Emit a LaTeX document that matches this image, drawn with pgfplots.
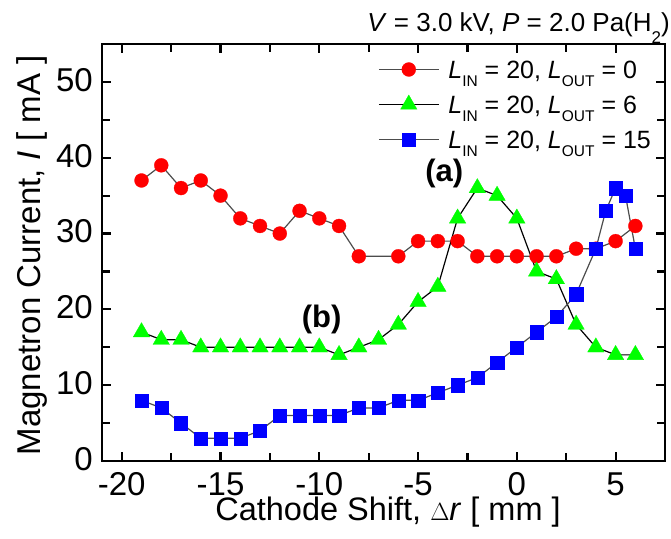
\documentclass[border=0pt]{standalone}
\usepackage{pgfplots}
\pgfplotsset{compat=1.18}
\usepackage{fontspec}
\setmainfont{Liberation Sans}

\newcommand{\Lsub}[1]{\textit{L}\raisebox{-8pt}{\fontsize{15.5}{15.5}\selectfont #1}}

\begin{document}
\begin{tikzpicture}
\useasboundingbox (-102pt,-77pt) rectangle (569pt,461pt);
\begin{axis}[
  at={(0pt,0pt)}, anchor=south west,
  scale only axis, width=563pt, height=417pt,
  clip=false,
  xmin=-21, xmax=7.5, ymin=0, ymax=55,
  xtick={-20,-15,...,5}, minor xtick={-17.5,-12.5,-7.5,-2.5,2.5},
  ytick={0,10,...,50}, minor ytick={5,15,...,45},
  tick align=inside,
  major tick length=9pt, minor tick length=8pt,
  every tick/.style={line width=2.2pt, black},
  axis line style={line width=2.7pt},
  /pgf/number format/assume math mode=true,
  xticklabel style={font=\fontsize{33}{33}\selectfont, inner sep=0pt, anchor=base, yshift=-34pt},
  yticklabel style={font=\fontsize{33}{33}\selectfont, inner sep=0pt, anchor=east, xshift=-9pt, yshift=2pt},
  xlabel={Cathode Shift, $\Delta$\textit{r} [ mm ]},
  ylabel={Magnetron Current, \textit{I} [ mA ]},
  x label style={font=\fontsize{32.5}{33}\selectfont, inner sep=0pt, at={(axis description cs:0.508,0)}, anchor=base, yshift=-59.5pt},
  y label style={font=\fontsize{33}{33}\selectfont, inner sep=0pt, at={([xshift=-61pt]axis description cs:0,0.493)}, rotate=0, anchor=base},
  legend style={draw=none, fill=none, inner sep=0pt, at={(rel axis cs:0.4902,0.9705)}, anchor=north west,
    font=\fontsize{25}{25}\selectfont, row sep=9pt, column sep=9pt,
    nodes={inner sep=0pt, text height=22pt, text depth=4pt}},
  legend cell align=left,
  legend image code/.code={\draw[mark repeat=2, mark phase=2, #1] plot coordinates {(0pt,0pt) (30pt,0pt) (60pt,0pt)};},
]
\addplot[black!70, line width=1.2pt, mark=*, mark size=7pt, mark options={solid, fill=red, draw=red, line width=0.3pt}] coordinates {
(-19,37)(-18,39)(-17,36)(-16,37)(-15,35)(-14,32)(-13,31)(-12,30)(-11,33)(-10,32)(-9,31)(-8,27)(-6,27)(-5,29)(-4,29)(-3,29)(-2,27)(-1,27)(0,27)(1,27)(2,27)(3,28)(4,28)(5,29)(6,31)};
\addlegendentry{\Lsub{IN} = 20, \Lsub{OUT} = 0}
\addplot[black, line width=1.2pt, mark=triangle*, mark size=9.5pt, mark options={solid, fill=green, draw=green, line width=0.3pt}] coordinates {
(-19,17)(-18,16)(-17,16)(-16,15)(-15,15)(-14,15)(-13,15)(-12,15)(-11,15)(-10,15)(-9,14)(-8,15)(-7,16)(-6,18)(-5,21)(-4,23)(-3,32)(-2,36)(-1,35)(0,32)(1,25)(2,24)(3,18)(4,15)(5,14)(6,14)};
\addlegendentry{\Lsub{IN} = 20, \Lsub{OUT} = 6}
\addplot[black!70, line width=1.2pt, mark=square*, mark size=6.6pt, mark options={solid, fill=blue, draw=blue, line width=0.3pt}] coordinates {
(-19,8)(-18,7)(-17,5)(-16,3)(-15,3)(-14,3)(-13,4)(-12,6)(-11,6)(-10,6)(-9,6)(-8,7)(-7,7)(-6,8)(-5,8)(-4,9)(-3,10)(-2,11)(-1,13)(0,15)(1,17)(2,19)(3,22)(4,28)(4.5,33)(5,36)(5.5,35)(6,28)};
\addlegendentry{\Lsub{IN} = 20, \Lsub{OUT} = 15}
\node[font=\bfseries\fontsize{31}{31}\selectfont] at (axis cs:-3.67,37.9) {(a)};
\node[font=\bfseries\fontsize{31}{31}\selectfont] at (axis cs:-9.88,18.6) {(b)};
\node[anchor=base east, inner sep=0pt, font=\fontsize{26}{26}\selectfont] at ([xshift=5pt,yshift=12pt]rel axis cs:1,1) {\textit{V} = 3.0 kV, \textit{P} = 2.0 Pa(H\raisebox{-12pt}{\fontsize{17}{17}\selectfont 2})};
\end{axis}
\end{tikzpicture}
\end{document}
